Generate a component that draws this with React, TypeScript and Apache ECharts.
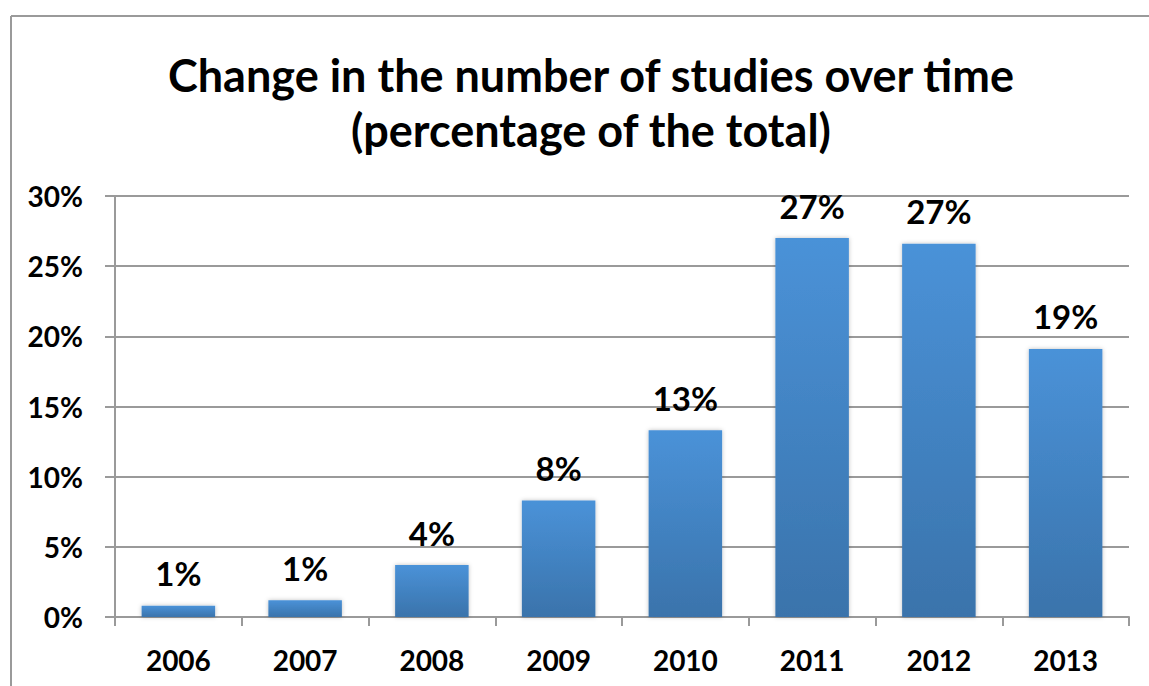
import React, { useEffect, useRef } from "react";
import * as echarts from "echarts";

const categories = ["2006", "2007", "2008", "2009", "2010", "2011", "2012", "2013"];
const shares = [0.8, 1.2, 3.7, 8.3, 13.3, 27.0, 26.6, 19.1];
const yTicks = [0, 5, 10, 15, 20, 25, 30];
const titleLines = ["Change in the number of studies over time", "(percentage of the total)"];

const FONT = "Lato, 'Open Sans', sans-serif";

export default function App() {
  const ref = useRef<HTMLDivElement>(null);
  useEffect(() => {
    document.body.style.margin = "0";
    const chart = echarts.init(ref.current!, null, { renderer: "svg" });
    chart.setOption({
      animation: false,
      backgroundColor: "#ffffff",
      title: {
        text: titleLines.join("\n"),
        left: 586,
        top: 42,
        textAlign: "center",
        textStyle: {
          fontFamily: FONT,
          fontWeight: "bold",
          fontSize: 45,
          lineHeight: 55,
          color: "#000000",
        },
      },
      graphic: [
        { type: "line", shape: { x1: 11, y1: 16, x2: 1149, y2: 16 }, style: { stroke: "#9a9a9a", lineWidth: 2 } },
        { type: "line", shape: { x1: 11, y1: 16, x2: 11, y2: 686 }, style: { stroke: "#9a9a9a", lineWidth: 2 } },
      ],
      grid: { left: 115, right: 20, top: 196, bottom: 69 },
      xAxis: {
        type: "category",
        data: categories,
        axisLine: { lineStyle: { color: "#9a9a9a", width: 2 } },
        axisTick: { show: true, length: 9, lineStyle: { color: "#9a9a9a", width: 2 } },
        axisLabel: {
          margin: 29,
          fontFamily: FONT,
          fontWeight: "bold",
          fontSize: 28,
          color: "#000000",
        },
      },
      yAxis: {
        type: "value",
        min: yTicks[0],
        max: yTicks[yTicks.length - 1],
        interval: 5,
        axisLine: { show: true, lineStyle: { color: "#9a9a9a", width: 2 } },
        axisTick: { show: true, length: 10, lineStyle: { color: "#9a9a9a", width: 2 } },
        splitLine: { lineStyle: { color: "#9a9a9a", width: 2 } },
        axisLabel: {
          margin: 32,
          formatter: (v: number) => `${v}%`,
          fontFamily: FONT,
          fontWeight: "bold",
          fontSize: 28,
          color: "#000000",
        },
      },
      series: [
        {
          type: "bar",
          data: shares,
          barWidth: "58%",
          itemStyle: {
            color: new echarts.graphic.LinearGradient(0, 0, 0, 1, [
              { offset: 0, color: "#4A92D8" },
              { offset: 1, color: "#3A73AB" },
            ]),
            shadowColor: "rgba(0,0,0,0.25)",
            shadowBlur: 4,
          },
          label: {
            show: true,
            position: "top",
            distance: 16,
            formatter: (p: any) => `${Math.round(p.value)}%`,
            fontFamily: FONT,
            fontWeight: "bold",
            fontSize: 33,
            color: "#000000",
          },
        },
      ],
    });
    return () => chart.dispose();
  }, []);
  return <div ref={ref} style={{ width: 1149, height: 686 }} />;
}
